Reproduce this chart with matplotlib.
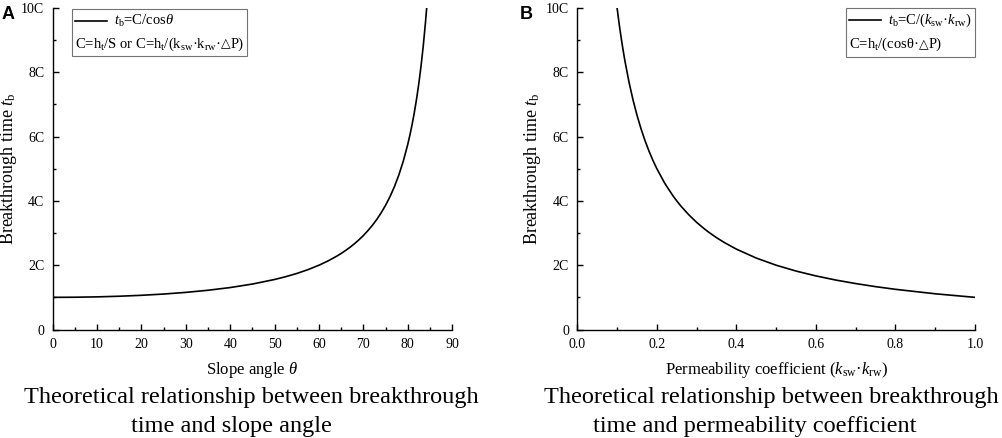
import matplotlib
matplotlib.use('Agg')
from matplotlib import pyplot as plt
from matplotlib.lines import Line2D
from matplotlib.ticker import MultipleLocator, FormatStrFormatter
from matplotlib.offsetbox import AnchoredOffsetbox, DrawingArea, TextArea, HPacker, VPacker

plt.rcParams['font.family'] = ['Liberation Serif', 'DejaVu Sans']
plt.rcParams['mathtext.fontset'] = 'custom'
plt.rcParams['mathtext.rm'] = 'Liberation Serif'
plt.rcParams['mathtext.it'] = 'Liberation Serif:italic'

### values
# panel A: breakthrough time vs slope angle
theta = [0, 5, 10, 15, 20, 25, 30, 35, 40, 45, 50, 52.5, 55, 57.5, 60, 62, 64, 65,
         66, 67, 68, 69, 70, 71, 72, 73, 74, 75, 76, 77, 78, 79, 80, 80.5, 81,
         81.5, 82, 82.5, 83, 83.5, 84, 84.26]
tb_theta = [1.000, 1.004, 1.015, 1.035, 1.064, 1.103, 1.155, 1.221, 1.305, 1.414,
            1.556, 1.643, 1.743, 1.861, 2.000, 2.130, 2.281, 2.366, 2.459, 2.559,
            2.669, 2.790, 2.924, 3.072, 3.236, 3.420, 3.628, 3.864, 4.134, 4.445,
            4.810, 5.241, 5.759, 6.059, 6.392, 6.765, 7.185, 7.661, 8.206, 8.834,
            9.567, 10.0]

# panel B: breakthrough time vs permeability coefficient
perm = [0.100, 0.105, 0.11, 0.115, 0.12, 0.13, 0.14, 0.15, 0.16, 0.17, 0.18, 0.19,
        0.20, 0.22, 0.24, 0.25, 0.26, 0.28, 0.30, 0.32, 0.33, 0.35, 0.37, 0.40,
        0.45, 0.50, 0.55, 0.60, 0.65, 0.70, 0.75, 0.80, 0.90, 1.00]
tb_perm = [10.0, 9.524, 9.091, 8.696, 8.333, 7.692, 7.143, 6.667, 6.250, 5.882,
           5.556, 5.263, 5.000, 4.545, 4.167, 4.000, 3.846, 3.571, 3.333, 3.125,
           3.030, 2.857, 2.703, 2.500, 2.222, 2.000, 1.818, 1.667, 1.538, 1.429,
           1.333, 1.250, 1.111, 1.000]

ytick_vals = [0, 2, 4, 6, 8, 10]
ytick_labels = ['0', '2C', '4C', '6C', '8C', '10C']


def style_axes(ax):
    ax.spines['top'].set_visible(False)
    ax.spines['right'].set_visible(False)
    for s in ['left', 'bottom']:
        ax.spines[s].set_linewidth(1.0)
    ax.set_ylim(0, 10)
    ax.set_yticks(ytick_vals)
    ax.set_yticklabels(ytick_labels)
    ax.yaxis.set_minor_locator(MultipleLocator(1))
    ax.tick_params(which='major', direction='in', length=4.5, width=1.0,
                   labelsize=10, pad=6)
    ax.tick_params(which='minor', direction='in', length=2.5, width=1.0)
    ax.tick_params(axis='x', pad=6)
    ax.set_ylabel('Breakthrough time $t_\\mathrm{b}$', fontsize=13)


def add_key(ax, label1, parts2, anchor, loc):
    # key box: line + formula on row 1, the constant C on row 2
    da = DrawingArea(23, 8, 0, 0)
    da.add_artist(Line2D([0, 23], [4, 4], color='k', lw=1.2))
    t1 = TextArea(label1, textprops=dict(size=10.5))
    row1 = HPacker(children=[da, t1], pad=0, sep=5, align='center')
    pieces = []
    for txt in parts2:
        if txt == '△':
            pieces.append(TextArea(txt, textprops=dict(size=9, family='DejaVu Sans')))
        else:
            pieces.append(TextArea(txt, textprops=dict(size=10.5)))
    row2 = HPacker(children=pieces, pad=0, sep=0, align='baseline')
    box = VPacker(children=[row1, row2], pad=0, sep=5, align='left')
    key = AnchoredOffsetbox(loc=loc, child=box, pad=0.25, borderpad=0,
                            frameon=True, bbox_to_anchor=anchor,
                            bbox_transform=ax.transAxes)
    key.patch.set_edgecolor('0.45')
    key.patch.set_linewidth(0.8)
    key.patch.set_boxstyle('square', pad=0)
    ax.add_artist(key)


fig = plt.figure(figsize=(10.03, 4.38), dpi=100)

axA = fig.add_axes([0.0525, 0.2477, 0.3983, 0.734])
axA.plot(theta, tb_theta, color='k', lw=1.2)
axA.set_xlim(0, 90)
axA.xaxis.set_major_locator(MultipleLocator(10))
axA.xaxis.set_minor_locator(MultipleLocator(5))
style_axes(axA)
axA.set_xlabel('Slope angle $\\theta$', fontsize=12)
axA.xaxis.set_label_coords(0.5, -0.096)
axA.yaxis.set_label_coords(-0.084, 0.5)
add_key(axA, '$t_\\mathrm{b}$=C/cos$\\theta$',
        ['C=h$_\\mathrm{t}$/S or C=h$_\\mathrm{t}$/(k$_\\mathrm{sw}$·k$_\\mathrm{rw}$·',
         '△', 'P)'],
        (0.048, 0.997), 'upper left')

axB = fig.add_axes([0.5756, 0.2477, 0.3965, 0.734])
axB.plot(perm, tb_perm, color='k', lw=1.2)
axB.set_xlim(0, 1.0)
axB.xaxis.set_major_locator(MultipleLocator(0.2))
axB.xaxis.set_minor_locator(MultipleLocator(0.1))
axB.xaxis.set_major_formatter(FormatStrFormatter('%.1f'))
style_axes(axB)
axB.set_xlabel('Permeability coefficient ($k_\\mathrm{sw}$·$k_\\mathrm{rw}$)', fontsize=12)
axB.xaxis.set_label_coords(0.5, -0.096)
axB.yaxis.set_label_coords(-0.087, 0.5)
add_key(axB, '$t_\\mathrm{b}$=C/($k_\\mathrm{sw}$·$k_\\mathrm{rw}$)',
        ['C=h$_\\mathrm{t}$/(cosθ·', '△', 'P)'], (1.0, 1.0), 'upper right')

# panel letters
fig.text(0.002, 0.987, 'A', family='Liberation Sans', weight='bold', size=13, va='top')
fig.text(0.518, 0.987, 'B', family='Liberation Sans', weight='bold', size=13, va='top')

# captions
fig.text(0.2503, 0.080, 'Theoretical relationship between breakthrough',
         ha='center', va='baseline', size=17.5)
fig.text(0.2303, 0.0137, 'time and slope angle', ha='center', va='baseline', size=17.5)
fig.text(0.7687, 0.080, 'Theoretical relationship between breakthrough',
         ha='center', va='baseline', size=17.5)
fig.text(0.7522, 0.0137, 'time and permeability coefficient',
         ha='center', va='baseline', size=17.5)

fig.savefig('out.png', dpi=100)
